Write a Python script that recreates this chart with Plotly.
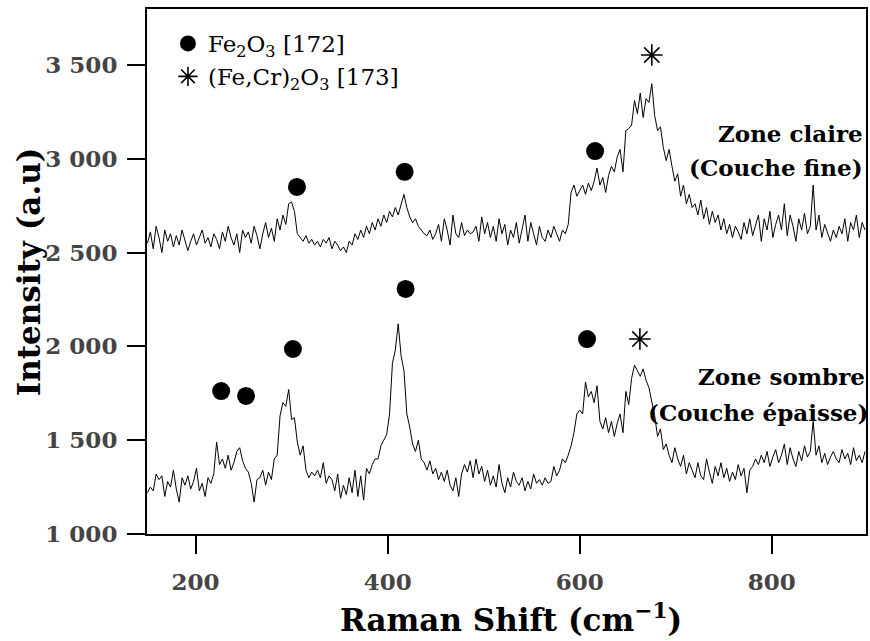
import plotly.graph_objects as go

# Raman shift sampling grid (cm^-1)
raman_shift = list(range(150, 900, 3))

# Bright zone (thin layer) spectrum
zone_claire = [
    2550, 2610, 2520, 2640, 2580, 2500, 2620, 2560, 2600, 2530,
    2590, 2540, 2620, 2570, 2510, 2560, 2600, 2540, 2580, 2620,
    2550, 2580, 2530, 2600, 2570, 2520, 2610, 2560, 2640, 2580,
    2540, 2600, 2500, 2620, 2580, 2610, 2550, 2640, 2590, 2520,
    2600, 2660, 2580, 2630, 2560, 2680, 2620, 2700, 2650, 2760,
    2770, 2720, 2600, 2580, 2560, 2590, 2550, 2570, 2540, 2560,
    2530, 2570, 2550, 2580, 2520, 2560, 2540, 2510, 2530, 2500,
    2560, 2540, 2600, 2570, 2620, 2580, 2640, 2600, 2660, 2620,
    2680, 2640, 2700, 2660, 2720, 2690, 2740, 2700, 2760, 2810,
    2740, 2690, 2660, 2680, 2640, 2620, 2600, 2590, 2620, 2570,
    2600, 2650, 2560, 2680, 2620, 2540, 2700, 2600, 2580, 2660,
    2590, 2620, 2600, 2610, 2640, 2560, 2690, 2600, 2660, 2580,
    2640, 2560, 2680, 2600, 2650, 2540, 2620, 2580, 2660, 2550,
    2620, 2700, 2560, 2660, 2600, 2540, 2640, 2580, 2560, 2620,
    2580, 2640, 2600, 2560, 2620, 2600, 2650, 2820, 2860, 2800,
    2830, 2860, 2810, 2870, 2830, 2880, 2950, 2860, 2900, 2820,
    2910, 2960, 2930, 3010, 3050, 2930, 3150, 3160, 3180, 3310,
    3240, 3350, 3220, 3320, 3300, 3400, 3230, 3150, 3170, 3060,
    2990, 3050, 2960, 2880, 2920, 2800, 2860, 2760, 2810, 2740,
    2760, 2700, 2780, 2680, 2740, 2650, 2720, 2660, 2700, 2620,
    2680, 2600, 2650, 2580, 2640, 2610, 2570, 2660, 2600, 2680,
    2590, 2640, 2700, 2560, 2680, 2620, 2720, 2580, 2650, 2700,
    2620, 2760, 2590, 2700, 2640, 2560, 2680, 2620, 2710, 2600,
    2640, 2860, 2620, 2700, 2580, 2650, 2600, 2560, 2620, 2580,
    2640, 2600, 2680, 2560, 2660, 2620, 2700, 2580, 2660, 2620,
]

# Dark zone (thick layer) spectrum
zone_sombre = [
    1220, 1250, 1230, 1320, 1290, 1310, 1200, 1280, 1250, 1340,
    1240, 1170, 1300, 1260, 1310, 1240, 1280, 1350, 1230, 1270,
    1200, 1300, 1270, 1320, 1490, 1370, 1400, 1350, 1420, 1340,
    1380, 1440, 1460, 1390, 1350, 1330, 1270, 1170, 1290, 1300,
    1340, 1260, 1330, 1290, 1400, 1420, 1630, 1700, 1680, 1770,
    1610, 1620, 1490, 1420, 1470, 1340, 1300, 1330, 1310, 1340,
    1300, 1380, 1270, 1310, 1290, 1230, 1320, 1190, 1260, 1210,
    1300, 1220, 1340, 1200, 1310, 1180, 1350, 1320, 1370, 1400,
    1400, 1470, 1500, 1530, 1640, 1910, 1980, 2120, 1950, 1870,
    1640, 1570, 1480, 1440, 1500, 1400, 1380, 1340, 1390, 1320,
    1350, 1290, 1330, 1280, 1340, 1260, 1230, 1300, 1200, 1320,
    1370, 1330, 1390, 1300, 1400, 1320, 1360, 1280, 1340, 1260,
    1310, 1250, 1370, 1270, 1220, 1300, 1250, 1330, 1280, 1260,
    1300, 1230, 1280, 1240, 1320, 1270, 1290, 1260, 1300, 1270,
    1280, 1360, 1310, 1340, 1400, 1380, 1420, 1470, 1540, 1640,
    1660, 1640, 1810, 1730, 1760, 1700, 1790, 1600, 1560, 1620,
    1540, 1600, 1520, 1590, 1640, 1540, 1760, 1690, 1830, 1900,
    1870, 1840, 1880, 1820, 1780, 1700, 1630, 1520, 1560, 1450,
    1480, 1420, 1380, 1460, 1400, 1360, 1420, 1320, 1380, 1340,
    1300, 1380, 1310, 1290, 1400, 1330, 1270, 1360, 1310, 1380,
    1300, 1350, 1280, 1330, 1290, 1370, 1310, 1350, 1220, 1340,
    1360, 1400, 1370, 1420, 1380, 1440, 1360, 1410, 1450, 1380,
    1420, 1480, 1370, 1460, 1400, 1360, 1440, 1390, 1470, 1410,
    1440, 1600, 1420, 1470, 1380, 1430, 1370, 1410, 1440, 1400,
    1380, 1450, 1400, 1430, 1370, 1460, 1390, 1420, 1380, 1440,
]

# Peak assignments: Fe2O3 (circles) and (Fe,Cr)2O3 (snowflakes)
fe2o3_shift = [305.6, 417.7, 616.0, 226.7, 252.6, 301.4, 418.7, 607.6]
fe2o3_level = [2850, 2930, 3041, 1762, 1736, 1986, 2306, 2039]
fecr_shift = [675.0, 662.6]
fecr_level = [3553, 2039]

x_ticks = [200, 400, 600, 800]
x_ticktext = ["200", "400", "600", "800"]
y_ticks = [1000, 1500, 2000, 2500, 3000, 3500]
y_ticktext = ["1 000", "1 500", "2 000", "2 500", "3 000", "3 500"]

SERIF = "DejaVu Serif"

fig = go.Figure()
for series in (zone_claire, zone_sombre):
    fig.add_trace(go.Scatter(
        x=raman_shift, y=series, mode="lines",
        line=dict(color="black", width=1), showlegend=False,
    ))

fig.add_trace(go.Scatter(
    x=fe2o3_shift, y=fe2o3_level, mode="markers",
    name="Fe<sub>2</sub>O<sub>3</sub> [172]",
    marker=dict(symbol="circle", size=18, color="black"),
))
fig.add_trace(go.Scatter(
    x=fecr_shift, y=fecr_level, mode="markers",
    name="(Fe,Cr)<sub>2</sub>O<sub>3</sub> [173]",
    marker=dict(symbol="asterisk-open", size=18, color="black",
                line=dict(color="black", width=1.6)),
))

W, H = 870, 641
L, R, T, B = 147, 2, 9, 107
pw, ph = W - L - R, H - T - B


def px(x):
    return (x - L) / pw


def py(y):
    return (H - B - y) / ph


annotations = [
    # zone labels
    dict(x=px(867), y=py(133), text="<b>Zone claire</b>", xanchor="right",
         font=dict(family=SERIF, size=23)),
    dict(x=px(867), y=py(168), text="<b>(Couche fine)</b>", xanchor="right",
         font=dict(family=SERIF, size=23)),
    dict(x=px(869), y=py(376), text="<b>Zone sombre</b>", xanchor="right",
         font=dict(family=SERIF, size=23)),
    dict(x=px(872), y=py(412), text="<b>(Couche épaisse)</b>", xanchor="right",
         font=dict(family=SERIF, size=23)),
    # axis titles
    dict(x=px(512), y=py(618), text="<b>Raman Shift (cm<sup>\u22121</sup>)</b>",
         font=dict(family=SERIF, size=31)),
    dict(x=px(29), y=py(272), text="<b>Intensity (a.u)</b>", textangle=-90,
         font=dict(family=SERIF, size=31)),
]
for a in annotations:
    a.update(xref="paper", yref="paper", showarrow=False)
    a.setdefault("xanchor", "center")
    a.setdefault("yanchor", "middle")
    a["font"].setdefault("color", "black")

axis_common = dict(
    showgrid=False, zeroline=False, showline=True, linecolor="black", linewidth=2,
    mirror=True, ticks="outside", ticklen=18, tickwidth=2, tickcolor="black",
    tickfont=dict(family=SERIF, size=23, color="#444", weight="bold"),
)

fig.update_layout(
    width=W, height=H,
    margin=dict(l=L, r=R, t=T, b=B),
    plot_bgcolor="white", paper_bgcolor="white",
    xaxis=dict(range=[149.5, 898], tickvals=x_ticks, ticktext=x_ticktext,
               ticklabelstandoff=8, **axis_common),
    yaxis=dict(range=[1000, 3798], tickvals=y_ticks, ticktext=y_ticktext,
               ticklabelstandoff=5, **axis_common),
    annotations=annotations,
    showlegend=True,
    legend=dict(x=px(168), y=py(22), xanchor="left", yanchor="top",
                bgcolor="rgba(0,0,0,0)", borderwidth=0,
                font=dict(family=SERIF, size=23, color="black"),
                itemsizing="trace", tracegroupgap=0),
)

fig.write_html("out.html")
